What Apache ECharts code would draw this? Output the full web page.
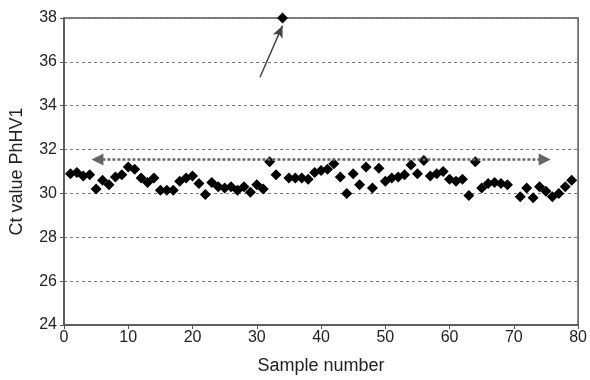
<!DOCTYPE html>
<html><head><meta charset="utf-8">
<script src="https://cdn.jsdelivr.net/npm/echarts@6/dist/echarts.min.js"></script>
<style>html,body{margin:0;padding:0;background:#fff}#c{width:590px;height:380px}</style>
</head><body><div id="c"></div>
<script>
const sampleNumbers = [1,2,3,4,5,6,7,8,9,10,11,12,13,14,15,16,17,18,19,20,21,22,23,24,25,26,27,28,29,30,31,32,33,34,35,36,37,38,39,40,41,42,43,44,45,46,47,48,49,50,51,52,53,54,55,56,57,58,59,60,61,62,63,64,65,66,67,68,69,71,72,73,74,75,76,77,78,79];
const ctValues = [30.9,30.95,30.8,30.85,30.2,30.6,30.4,30.75,30.85,31.2,31.1,30.7,30.5,30.7,30.15,30.15,30.15,30.55,30.7,30.8,30.45,29.95,30.5,30.3,30.25,30.3,30.15,30.3,30.05,30.4,30.2,31.45,30.85,38.0,30.7,30.7,30.7,30.65,30.95,31.05,31.1,31.35,30.75,30.0,30.9,30.4,31.2,30.25,31.15,30.55,30.7,30.75,30.85,31.3,30.9,31.5,30.8,30.9,31.0,30.65,30.55,30.65,29.9,31.45,30.25,30.45,30.5,30.45,30.4,29.85,30.25,29.8,30.3,30.1,29.85,30.0,30.3,30.6];
const xTicks = {min: 0, max: 80, interval: 10};
const yTicks = {min: 24, max: 38, interval: 2};
const rangeArrow = [[5.2, 31.55], [74.8, 31.55]];
const outlierArrow = [[30.5, 35.3], [34.0, 37.65]];

const chart = echarts.init(document.getElementById('c'));
chart.setOption({
  animation: false,
  backgroundColor: '#fff',
  grid: {left: 63, right: 10, top: 18, bottom: 55, show: true, borderColor: '#555', borderWidth: 1.5},
  xAxis: {
    type: 'value', min: xTicks.min, max: xTicks.max, interval: xTicks.interval,
    name: 'Sample number', nameLocation: 'middle', nameGap: 32,
    nameTextStyle: {fontFamily: 'Liberation Sans', fontSize: 18, color: '#222'},
    axisLine: {lineStyle: {color: '#555', width: 1.5}},
    axisTick: {show: true, length: 4, lineStyle: {color: '#555'}},
    axisLabel: {fontFamily: 'Liberation Sans', fontSize: 16, color: '#222', margin: 5},
    splitLine: {show: false}
  },
  yAxis: {
    type: 'value', min: yTicks.min, max: yTicks.max, interval: yTicks.interval,
    name: 'Ct value PhHV1', nameLocation: 'middle', nameGap: 38,
    nameTextStyle: {fontFamily: 'Liberation Sans', fontSize: 18, color: '#222'},
    axisLine: {show: true, lineStyle: {color: '#555', width: 1.5}},
    axisTick: {show: true, length: 4, lineStyle: {color: '#555'}},
    axisLabel: {fontFamily: 'Liberation Sans', fontSize: 16, color: '#222', margin: 7},
    splitLine: {show: true, lineStyle: {color: '#777', type: [3, 3], width: 1}}
  },
  series: [{
    type: 'scatter',
    data: sampleNumbers.map((x, i) => [x, ctValues[i]]),
    symbol: 'diamond', symbolSize: 11,
    itemStyle: {color: '#000', opacity: 1},
    markLine: {
      silent: true, animation: false,
      label: {show: false},
      data: [
        [{coord: rangeArrow[0], symbol: 'triangle', symbolSize: [12, 12], symbolRotate: 90,
          lineStyle: {color: '#666', type: [3, 2], width: 2.5}},
         {coord: rangeArrow[1], symbol: 'triangle', symbolSize: [12, 12], symbolRotate: -90}],
        [{coord: outlierArrow[0], symbol: 'none', lineStyle: {color: '#444', type: 'solid', width: 1.5}},
         {coord: outlierArrow[1], symbol: 'arrow', symbolSize: [8, 12]}]
      ]
    }
  }]
});
</script></body></html>
